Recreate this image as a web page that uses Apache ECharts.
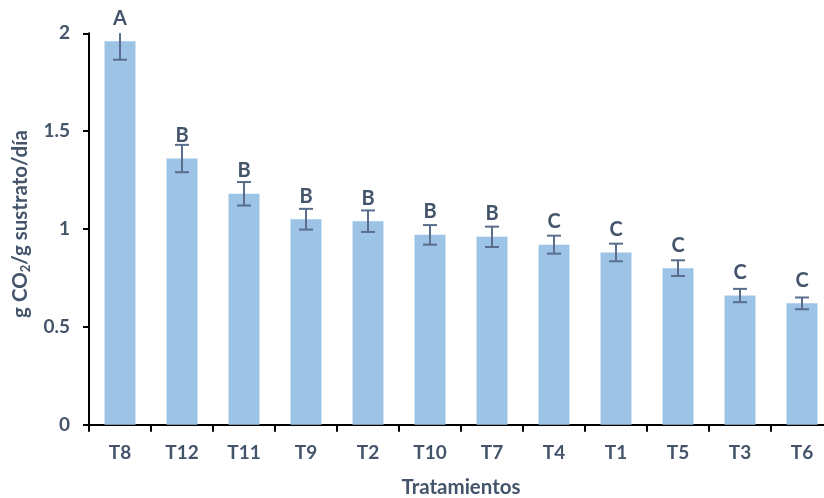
<!DOCTYPE html>
<html>
<head>
<meta charset="utf-8">
<script src="https://cdn.jsdelivr.net/npm/echarts@6/dist/echarts.min.js"></script>
<style>
  html, body { margin: 0; padding: 0; background: #fff; overflow: hidden; }
  #chart { width: 824px; height: 498px; }
</style>
</head>
<body>
<div id="chart"></div>
<script>
// Treatments, ordered by CO2 release
const categories = ['T8', 'T12', 'T11', 'T9', 'T2', 'T10', 'T7', 'T4', 'T1', 'T5', 'T3', 'T6'];
// Mean g CO2 / g substrate / day
const means = [1.96, 1.36, 1.18, 1.05, 1.04, 0.97, 0.96, 0.92, 0.88, 0.80, 0.66, 0.62];
// Half-width of the error bars
const errors = [0.095, 0.07, 0.06, 0.053, 0.055, 0.05, 0.052, 0.046, 0.045, 0.04, 0.034, 0.03];
// Significance groups
const groups = ['A', 'B', 'B', 'B', 'B', 'B', 'B', 'C', 'C', 'C', 'C', 'C'];
const yTicks = [0, 0.5, 1, 1.5, 2];

const TEXT = '#44546A';
const FONT = 'Lato';
const Y_MAX = yTicks[yTicks.length - 1];

const chart = echarts.init(document.getElementById('chart'), null, { renderer: 'canvas' });

chart.setOption({
  animation: false,
  backgroundColor: '#ffffff',
  textStyle: { fontFamily: FONT },
  // plot area runs slightly past the right edge of the canvas
  grid: { left: 89, top: 33.3, width: 744, height: 391.4, containLabel: false, outerBoundsMode: 'none' },
  xAxis: {
    type: 'category',
    data: categories,
    name: 'Tratamientos',
    nameLocation: 'middle',
    nameGap: 52,
    nameTextStyle: { color: TEXT, fontSize: 20.5, fontWeight: 'bold', fontFamily: FONT },
    axisLine: { lineStyle: { color: '#000', width: 2 } },
    axisTick: { show: true, length: 7, alignWithLabel: false, lineStyle: { color: '#000', width: 2 } },
    axisLabel: { color: TEXT, fontSize: 19, fontWeight: 'bold', fontFamily: FONT, margin: 19 },
    splitLine: { show: false }
  },
  yAxis: {
    type: 'value',
    min: yTicks[0],
    max: Y_MAX,
    interval: 0.5,
    name: '{n|g CO}{s|2}{n|/g sustrato/día}',
    nameLocation: 'middle',
    nameRotate: 90,
    nameGap: 56,
    nameTextStyle: {
      color: TEXT, fontSize: 20.5, fontWeight: 'bold', fontFamily: FONT,
      padding: [0, 0, 0, 10],
      rich: {
        n: { color: TEXT, fontSize: 20.5, fontWeight: 'bold', fontFamily: FONT, lineHeight: 24 },
        s: { color: TEXT, fontSize: 13, fontWeight: 'bold', fontFamily: FONT, lineHeight: 24, verticalAlign: 'bottom', padding: [9, 0, 0, 0] }
      }
    },
    axisLine: { show: true, lineStyle: { color: '#000', width: 2 } },
    axisTick: { show: true, length: 6, lineStyle: { color: '#000', width: 2 } },
    axisLabel: { color: TEXT, fontSize: 19, fontWeight: 'bold', fontFamily: FONT, margin: 19 },
    splitLine: { show: false }
  },
  series: [
    {
      type: 'bar',
      data: means,
      barWidth: 31,
      itemStyle: { color: '#9DC3E6' },
      label: {
        show: true,
        position: 'top',
        distance: 13,
        color: TEXT,
        fontSize: 20,
        fontWeight: 'bold',
        fontFamily: FONT,
        formatter: p => groups[p.dataIndex]
      },
      z: 2
    },
    {
      type: 'custom',
      data: means.map((m, i) => [i, m, errors[i]]),
      encode: { x: 0, y: 1 },
      z: 3,
      renderItem: function (params, api) {
        const idx = api.value(0);
        const m = api.value(1);
        const e = api.value(2);
        const hiVal = m + e;
        const clipped = hiVal > Y_MAX;
        const hi = api.coord([idx, Math.min(hiVal, Y_MAX)]);
        const lo = api.coord([idx, m - e]);
        const half = 7;
        const style = { stroke: '#5A6E8C', lineWidth: 2 };
        const children = [
          { type: 'line', shape: { x1: hi[0], y1: hi[1], x2: lo[0], y2: lo[1] }, style: style },
          { type: 'line', shape: { x1: lo[0] - half, y1: lo[1], x2: lo[0] + half, y2: lo[1] }, style: style }
        ];
        if (!clipped) {
          children.push({ type: 'line', shape: { x1: hi[0] - half, y1: hi[1], x2: hi[0] + half, y2: hi[1] }, style: style });
        }
        return { type: 'group', children: children };
      }
    }
  ]
});
</script>
</body>
</html>
